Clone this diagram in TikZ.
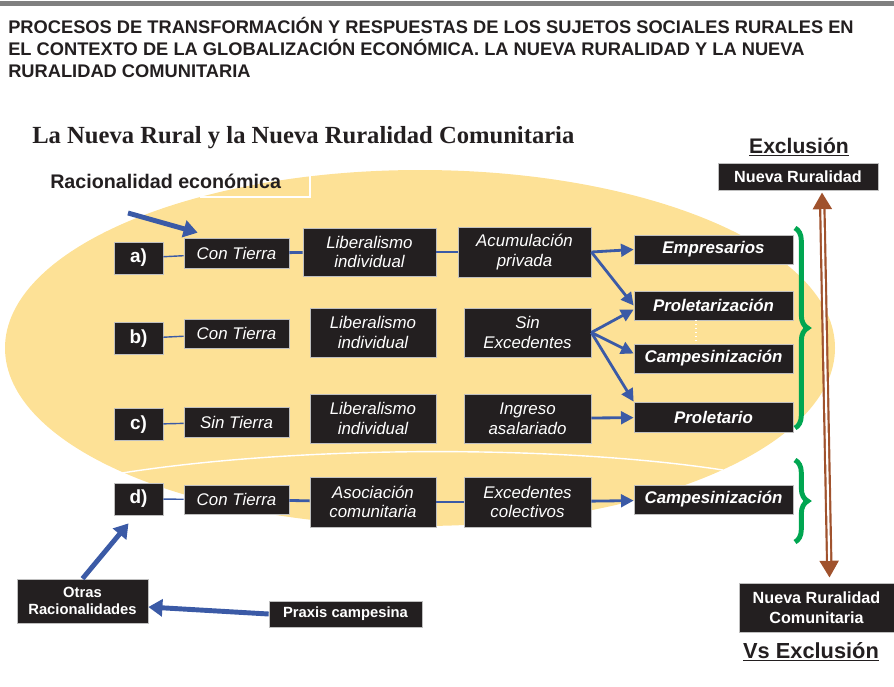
\documentclass[tikz,border=0pt]{standalone}
\usepackage{fontspec}
\setmainfont{Liberation Sans}
\newfontfamily\serifa{Liberation Serif}
\usepackage{tikz}
\usetikzlibrary{arrows.meta,calc,decorations.pathreplacing}
\definecolor{amarillo}{HTML}{FDE196}
\definecolor{azul}{HTML}{3B5AA6}
\definecolor{verde}{HTML}{00A651}
\definecolor{cafe}{HTML}{A0522D}
\definecolor{negro}{HTML}{231F20}

\begin{document}
\begin{tikzpicture}[x=0.025cm, y=-0.025cm,
    caja/.style 2 args={fill=negro, draw=white!75!black, line width=0.5pt, text=white,
      inner sep=0pt, align=center, minimum width=#1*0.025cm, minimum height=#2*0.025cm,
      font=\fontsize{12}{14}\selectfont\itshape},
    letra/.style={caja={49}{32}, font=\fontsize{13.5}{15}\selectfont\bfseries},
    final/.style={caja={159}{29}, font=\fontsize{12}{14}\selectfont\bfseries\itshape},
    linea/.style={azul, line width=1pt},
    union/.style={azul, line width=2pt},
    flecha/.style={azul, line width=2pt, -{Triangle[length=9pt, width=9pt]}},
    flechota/.style={azul, line width=3.5pt, -{Triangle[length=10pt, width=12pt]}},
    llave/.style={verde, line width=3.5pt, decorate, decoration={brace, amplitude=9pt}}]
        \useasboundingbox (0,0) rectangle (894,686);
        \draw[gray, line width=3pt] (0,3.5) -- (894,3.5);
        \node[anchor=base west, inner sep=0pt, text=negro, font=\fontsize{13}{15}\selectfont\bfseries] (tit1) at (8,33.5) {PROCESOS DE TRANSFORMACIÓN Y RESPUESTAS DE LOS SUJETOS SOCIALES RURALES EN};
        \node[anchor=base west, inner sep=0pt, text=negro, font=\fontsize{13}{15}\selectfont\bfseries] (tit2) at (8,55.5) {EL CONTEXTO DE LA GLOBALIZACIÓN ECONÓMICA. LA NUEVA RURALIDAD Y LA NUEVA};
        \node[anchor=base west, inner sep=0pt, text=negro, font=\fontsize{13}{15}\selectfont\bfseries] (tit3) at (8,77.5) {RURALIDAD COMUNITARIA};
        \node[anchor=base west, inner sep=0pt, text=negro, font=\serifa\fontsize{17.5}{20}\selectfont\bfseries] (sub) at (32,143) {La Nueva Rural y la Nueva Ruralidad Comunitaria};

        % el ovalo
        \fill[amarillo] (420,348) ellipse [x radius=415, y radius=178];
        \draw[white, line width=1pt] (122,473) .. controls (300,445) and (560,445) .. (723,470);
        \draw[white, line width=1pt] (310,176) |- (200,197);
        \node[anchor=base west, inner sep=0pt, text=negro, font=\fontsize{14}{16}\selectfont\bfseries] (racio) at (50,188) {Racionalidad económica};

        \node[letra] (la) at (138.5,258) {a)};
        \node[caja={105}{30}] (cta) at (236.5,253) {Con Tierra};
        \node[caja={133}{48}] (liba) at (369.5,252) {Liberalismo\\individual};
        \node[caja={133}{50}] (acu) at (524.5,252) {Acumulación\\privada};
        \node[final] (emp) at (713.5,249.5) {Empresarios};

        \node[letra] (lb) at (138.5,338.5) {b)};
        \node[caja={105}{29}] (ctb) at (236.5,333.5) {Con Tierra};
        \node[caja={126}{49}] (libb) at (373,332.5) {Liberalismo\\individual};
        \node[caja={127}{49}] (sinex) at (527.5,332.5) {Sin\\Excedentes};
        \node[final] (prol) at (713.5,305.5) {Proletarización};
        \node[final] (camp) at (713.5,358.5) {Campesinización};

        \node[letra] (lc) at (138.5,424.5) {c)};
        \node[caja={105}{30}] (st) at (236.5,422) {Sin Tierra};
        \node[caja={126}{49}] (libc) at (373,418.5) {Liberalismo\\individual};
        \node[caja={127}{49}] (ing) at (527.5,418.5) {Ingreso\\asalariado};
        \node[final, minimum height=30*0.025cm] (prt) at (713.5,417) {Proletario};

        \node[letra] (ld) at (138.5,499) {d)};
        \node[caja={105}{29}] (ctd) at (236.5,499.5) {Con Tierra};
        \node[caja={126}{50}] (aso) at (373,502) {Asociación\\comunitaria};
        \node[caja={127}{50}] (exc) at (527.5,502) {Excedentes\\colectivos};
        \node[final] (campd) at (713.5,499.5) {Campesinización};

        \node[caja={131}{44}, font=\fontsize{10.5}{12}\selectfont\bfseries] (otras) at (82.5,601) {Otras\\Racionalidades};
        \node[caja={153}{26}, font=\fontsize{10.5}{12}\selectfont\bfseries] (praxis) at (345.5,614) {Praxis campesina};
        \node[caja={160}{27}, font=\fontsize{11.5}{14}\selectfont\bfseries] (nr) at (798,176.5) {Nueva Ruralidad};
        \node[caja={155}{49}, font=\fontsize{11.5}{14}\selectfont\bfseries] (nrc) at (816.5,607.5) {Nueva Ruralidad\\Comunitaria};
        \node[anchor=base, inner sep=0pt, text=negro, font=\fontsize{15}{17}\selectfont\bfseries] (excl) at (799,153) {\underline{Exclusión}};
        \node[anchor=base, inner sep=0pt, text=negro, font=\fontsize{15.5}{17}\selectfont\bfseries] (vs) at (811,658) {\underline{Vs Exclusión}};

        \draw[linea] (la) -- (cta);
        \draw[union] (cta) -- (liba);
        \draw[union] (liba) -- (acu);
        \draw[flecha] (acu.east) -- (emp.west);
        \draw[flecha] (acu.east) -- (prol.west);
        \draw[linea] (lb) -- (ctb);
        \draw[flecha] (sinex.east) -- ($(prol.west)+(0,4)$);
        \draw[flecha] (sinex.east) -- ($(camp.west)+(0,-5)$);
        \draw[flecha] (sinex.east) -- (prt.north west);
        \draw[white, line width=0.8pt, dotted] ($(prol.south)+(-17.5,0)$) -- ($(camp.north)+(-17.5,0)$);
        \draw[linea] (lc) -- (st);
        \draw[flecha] (ing) -- (prt);
        \draw[linea] (ld) -- (ctd);
        \draw[union] (ctd) -- (aso);
        \draw[union] (aso) -- (exc);
        \draw[flecha] (exc) -- (campd);

        \coordinate (inicio) at (128,213);
        \draw[flechota] (inicio) -- ($(cta.north west)+(14,-5)$);
        \draw[flechota] (otras.north) -- ($(ld.south)+(-10,8)$);
        \draw[flechota] (praxis.west) -- ($(otras.east)+(0,6)$);

        \draw[llave] (795,228) -- (795,428);
        \draw[llave] (795,460) -- (795,542);

        \coordinate (arr1) at ($(nr.south)+(24,2)$);
        \coordinate (arr2) at ($(nrc.north)+(13,-5)$);
        \draw[cafe, line width=4.6pt, {Triangle[length=12pt, width=13pt]}-{Triangle[length=12pt, width=13pt]}] (arr1) -- (arr2);
        \draw[white, line width=1.5pt, shorten <=12pt, shorten >=12pt] (arr1) -- (arr2);
\end{tikzpicture}
\end{document}
